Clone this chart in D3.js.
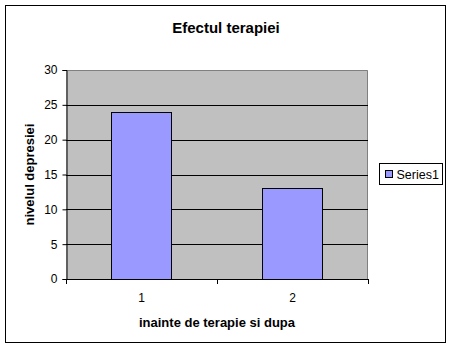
<!DOCTYPE html>
<html>
<head>
<meta charset="utf-8">
<script src="https://cdn.jsdelivr.net/npm/d3@7"></script>
<style>
  body { margin: 0; background: #fff; }
  svg { font-family: "Liberation Sans", Arial, sans-serif; }
</style>
</head>
<body>
<div id="chart"></div>
<script>
// chart data
const categories = ['1', '2'];
const values = [24, 13];
const yTicks = [0, 5, 10, 15, 20, 25, 30];
const seriesName = 'Series1';

const width = 453, height = 350;
const plot = { left: 66, top: 70, right: 368, bottom: 279 };

const svg = d3.select('#chart').append('svg')
  .attr('width', width)
  .attr('height', height);

// outer chart border
svg.append('rect')
  .attr('x', 5.5).attr('y', 5.5)
  .attr('width', 440).attr('height', 337)
  .attr('fill', '#fff')
  .attr('stroke', '#000')
  .attr('stroke-width', 1);

const x = d3.scaleBand()
  .domain(categories)
  .range([plot.left, plot.right])
  .paddingInner(0.6)
  .paddingOuter(0.3);

const y = d3.scaleLinear()
  .domain([0, 30])
  .range([plot.bottom, plot.top]);

// plot background
svg.append('rect')
  .attr('x', plot.left).attr('y', plot.top)
  .attr('width', plot.right - plot.left)
  .attr('height', plot.bottom - plot.top)
  .attr('fill', '#c0c0c0');

// top and right border (gray)
svg.append('path')
  .attr('d', `M${plot.left},${plot.top + 0.5}H${plot.right - 0.5}V${plot.bottom}`)
  .attr('fill', 'none')
  .attr('stroke', '#808080');

// gridlines
svg.append('g')
  .selectAll('line')
  .data(yTicks.filter(d => d > 0 && d < 30))
  .join('line')
  .attr('x1', plot.left).attr('x2', plot.right)
  .attr('y1', d => Math.round(y(d)) + 0.5)
  .attr('y2', d => Math.round(y(d)) + 0.5)
  .attr('stroke', '#000');

// bars
svg.append('g')
  .selectAll('rect')
  .data(values)
  .join('rect')
  .attr('x', (d, i) => Math.round(x(categories[i])) + 0.5)
  .attr('y', d => Math.round(y(d)) + 0.5)
  .attr('width', Math.round(x.bandwidth()))
  .attr('height', d => Math.round(y(0)) - Math.round(y(d)))
  .attr('fill', '#9999ff')
  .attr('stroke', '#000');

// y axis
const yAxis = svg.append('g')
  .attr('transform', `translate(${plot.left + 0.5},0)`)
  .call(d3.axisLeft(y).tickValues(yTicks).tickSize(4).tickPadding(5));
yAxis.selectAll('path, line').attr('stroke', '#000');
yAxis.selectAll('text')
  .attr('font-size', 12)
  .attr('font-family', '"Liberation Sans", Arial, sans-serif')
  .attr('fill', '#000');

// x axis
const xAxis = svg.append('g')
  .attr('transform', `translate(0,${plot.bottom + 0.5})`)
  .call(d3.axisBottom(x).tickSize(0).tickPadding(14));
xAxis.select('.domain').attr('d', `M${plot.left},0H${plot.right}`).attr('stroke', '#000');
xAxis.selectAll('text')
  .attr('font-size', 12)
  .attr('font-family', '"Liberation Sans", Arial, sans-serif')
  .attr('fill', '#000');

// x category separators
const seps = [plot.left, (x('1') + x.bandwidth() + x('2')) / 2, plot.right];
svg.append('g')
  .selectAll('line')
  .data(seps)
  .join('line')
  .attr('x1', d => Math.round(d) + 0.5).attr('x2', d => Math.round(d) + 0.5)
  .attr('y1', plot.bottom).attr('y2', plot.bottom + 5)
  .attr('stroke', '#000');

// title
svg.append('text')
  .attr('x', 226).attr('y', 33)
  .attr('text-anchor', 'middle')
  .attr('font-size', 15)
  .attr('font-weight', 'bold')
  .text('Efectul terapiei');

// axis titles
svg.append('text')
  .attr('x', 217).attr('y', 327)
  .attr('text-anchor', 'middle')
  .attr('font-size', 13)
  .attr('font-weight', 'bold')
  .text('inainte de terapie si dupa');

svg.append('text')
  .attr('transform', `translate(34,${(plot.top + plot.bottom) / 2}) rotate(-90)`)
  .attr('text-anchor', 'middle')
  .attr('font-size', 13)
  .attr('font-weight', 'bold')
  .text('nivelul depresiei');

// legend
const legend = svg.append('g').attr('transform', 'translate(379.5,163.5)');
legend.append('rect')
  .attr('width', 63).attr('height', 21)
  .attr('fill', '#fff').attr('stroke', '#000');
legend.append('rect')
  .attr('x', 6).attr('y', 7)
  .attr('width', 7).attr('height', 7)
  .attr('fill', '#9999ff').attr('stroke', '#000');
legend.append('text')
  .attr('x', 17).attr('y', 15)
  .attr('font-size', 12.5)
  .text(seriesName);
</script>
</body>
</html>
